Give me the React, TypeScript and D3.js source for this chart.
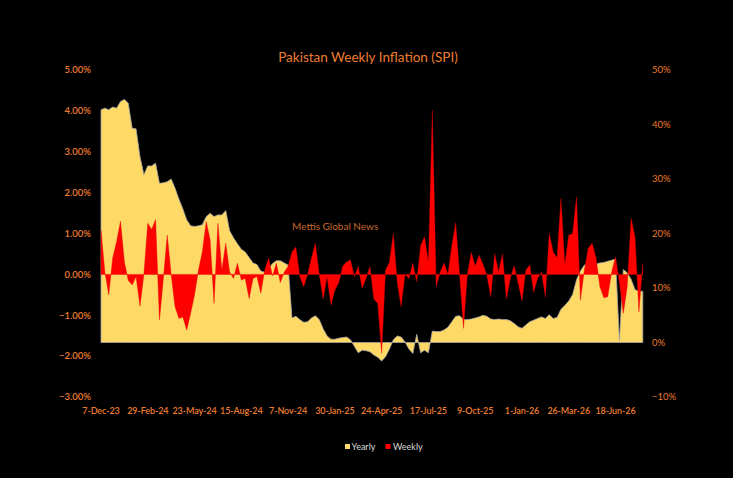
import React from "react";
import * as d3 from "d3";

// weekly SPI change (%), left axis
const weekly: number[] = [
  1.08, 0.05, -0.5, 0.4, 0.8, 1.3, 0.3, -0.15, -0.26, -0.05,
  -0.78, 0.0, 1.25, 1.1, 1.34, -1.12, -0.1, 0.96, 0.0, -0.79,
  -1.08, -1.04, -1.36, -0.95, -0.5, 0.1, 0.55, 1.29, 0.84, -0.71,
  1.25, 0.1, 0.76, 0.06, -0.1, 0.27, -0.14, -0.1, -0.59, -0.1,
  -0.05, -0.46, 0.1, 0.4, -0.04, 0.27, -0.2, 0.05, 0.2, 0.55,
  0.67, -0.05, -0.3, 0.0, 0.4, 0.76, 0.0, -0.6, -0.06, -0.75,
  -0.38, -0.2, 0.2, 0.3, 0.35, -0.06, 0.19, -0.34, -0.1, 0.19,
  -0.6, -0.71, -1.93, 0.1, 0.3, 1.0, -0.2, -0.79, 0.0, -0.1,
  0.27, -0.18, 0.7, 0.92, 0.3, 4.02, -0.3, 0.05, 0.28, 0.0,
  0.7, 1.26, 0.0, -1.32, 0.0, 0.54, 0.2, 0.47, 0.25, -0.02,
  -0.55, 0.51, 0.06, 0.5, -0.6, -0.1, 0.21, -0.2, -0.65, 0.1,
  0.23, -0.44, -0.1, 0.06, -0.55, 1.0, 0.55, 0.4, 1.86, 0.23,
  0.96, 1.0, 1.9, -0.63, 0.1, 0.64, 0.76, 0.4, -0.3, -0.57,
  -0.55, 0.05, 0.43, -0.2, -0.95, -0.3, 1.37, 0.92, -0.92, 0.27,
];

// year-on-year SPI (%), right axis
const yearly: number[] = [
  42.7, 43.0, 42.7, 43.2, 43.0, 44.2, 44.6, 43.9, 39.3, 39.2,
  34.1, 30.8, 32.4, 32.4, 32.9, 29.2, 29.3, 29.5, 30.0, 28.3,
  26.3, 24.5, 22.5, 21.4, 21.3, 21.4, 21.6, 23.1, 23.7, 23.1,
  23.4, 23.4, 24.2, 20.5, 19.2, 18.1, 17.1, 16.6, 15.6, 14.6,
  14.3, 13.1, 12.9, 13.6, 14.5, 15.0, 15.0, 14.6, 14.2, 4.5,
  4.8, 4.2, 3.7, 3.8, 4.5, 4.9, 4.2, 2.5, 1.2, 0.6,
  0.6, 0.8, 0.9, 1.0, 0.5, -0.7, -1.9, -1.4, -1.5, -1.7,
  -2.3, -2.7, -3.4, -2.6, -1.2, 0.5, 1.2, 1.0, 0.1, -1.2,
  -2.0, 1.5, -1.9, -1.4, -1.9, 2.1, 2.0, 2.0, 2.3, 2.8,
  3.8, 4.8, 4.9, 4.2, 4.2, 4.3, 4.5, 4.7, 5.0, 4.8,
  4.3, 4.2, 4.3, 4.2, 4.2, 4.0, 3.5, 2.9, 2.6, 3.2,
  3.8, 4.1, 4.4, 4.7, 4.4, 5.1, 4.4, 4.6, 6.1, 6.8,
  7.6, 8.8, 11.5, 13.1, 14.2, 14.5, 14.4, 14.4, 14.6, 14.7,
  14.9, 15.1, 15.3, 0.3, 13.4, 12.8, 11.6, 9.7, 9.4, 9.4,
];

// category labels shown every 12 weeks
const xLabels = [
  "7-Dec-23", "29-Feb-24", "23-May-24", "15-Aug-24", "7-Nov-24", "30-Jan-25",
  "24-Apr-25", "17-Jul-25", "9-Oct-25", "1-Jan-26", "26-Mar-26", "18-Jun-26",
];
const leftTicks = [-3, -2, -1, 0, 1, 2, 3, 4, 5];
const rightTicks = [-10, 0, 10, 20, 30, 40, 50];

const W = 733;
const H = 478;
const ORANGE = "#ED7D31";
const FONT = "Lato, 'Open Sans', sans-serif";

export default function App() {
  const x = d3.scaleLinear().domain([0, weekly.length - 1]).range([101, 642.8]);
  const yL = d3.scaleLinear().domain([-3, 5]).range([397, 70]);
  const yR = d3.scaleLinear().domain([-10, 50]).range([397, 70]);

  const yearlyArea = d3.area<number>()
    .x((_, i) => x(i))
    .y0(yR(0))
    .y1(d => yR(d));
  const weeklyArea = d3.area<number>()
    .x((_, i) => x(i))
    .y0(yL(0))
    .y1(d => yL(d));

  const fmtL = d3.format(".2%");
  const fmtR = d3.format(".0%");

  return (
    <svg width={W} height={H} style={{ position: "absolute", left: 0, top: 0 }} fontFamily={FONT}>
      <rect width={W} height={H} fill="#000" />

      <text x={368} y={62} textAnchor="middle" fontSize={13.5} fill={ORANGE}>
        Pakistan Weekly Inflation (SPI)
      </text>

      {/* yearly area on secondary axis */}
      <path d={yearlyArea(yearly) || ""} fill="#FFD966" stroke="#a6a6a6" strokeWidth={0.8} />
      {/* weekly area on primary axis */}
      <path d={weeklyArea(weekly) || ""} fill="#FF0000" stroke="#e00000" strokeWidth={0.4} />

      <text x={292} y={230} fontSize={10} fill="#C8692A">Mettis Global News</text>

      {leftTicks.map(t => (
        <text key={"l" + t} x={91} y={yL(t)} dy="0.35em" textAnchor="end" fontSize={9.5} fontWeight={600} fill={ORANGE}>
          {fmtL(t / 100)}
        </text>
      ))}
      {rightTicks.map(t => (
        <text key={"r" + t} x={652} y={yR(t)} dy="0.35em" fontSize={9.5} fill={ORANGE}>
          {fmtR(t / 100)}
        </text>
      ))}
      {xLabels.map((lab, k) => (
        <text key={lab} x={x(k * 12)} y={414} textAnchor="middle" fontSize={9} fontWeight={600} letterSpacing={-0.1} fill={ORANGE}>
          {lab}
        </text>
      ))}

      {/* legend */}
      <rect x={345} y={444} width={5} height={5} fill="#FFD966" />
      <text x={351.5} y={447} dy="0.35em" fontSize={9} fill="#d9d9d9">Yearly</text>
      <rect x={385.5} y={444} width={5} height={5} fill="#FF0000" />
      <text x={393} y={447} dy="0.35em" fontSize={9} fill="#d9d9d9">Weekly</text>
    </svg>
  );
}
